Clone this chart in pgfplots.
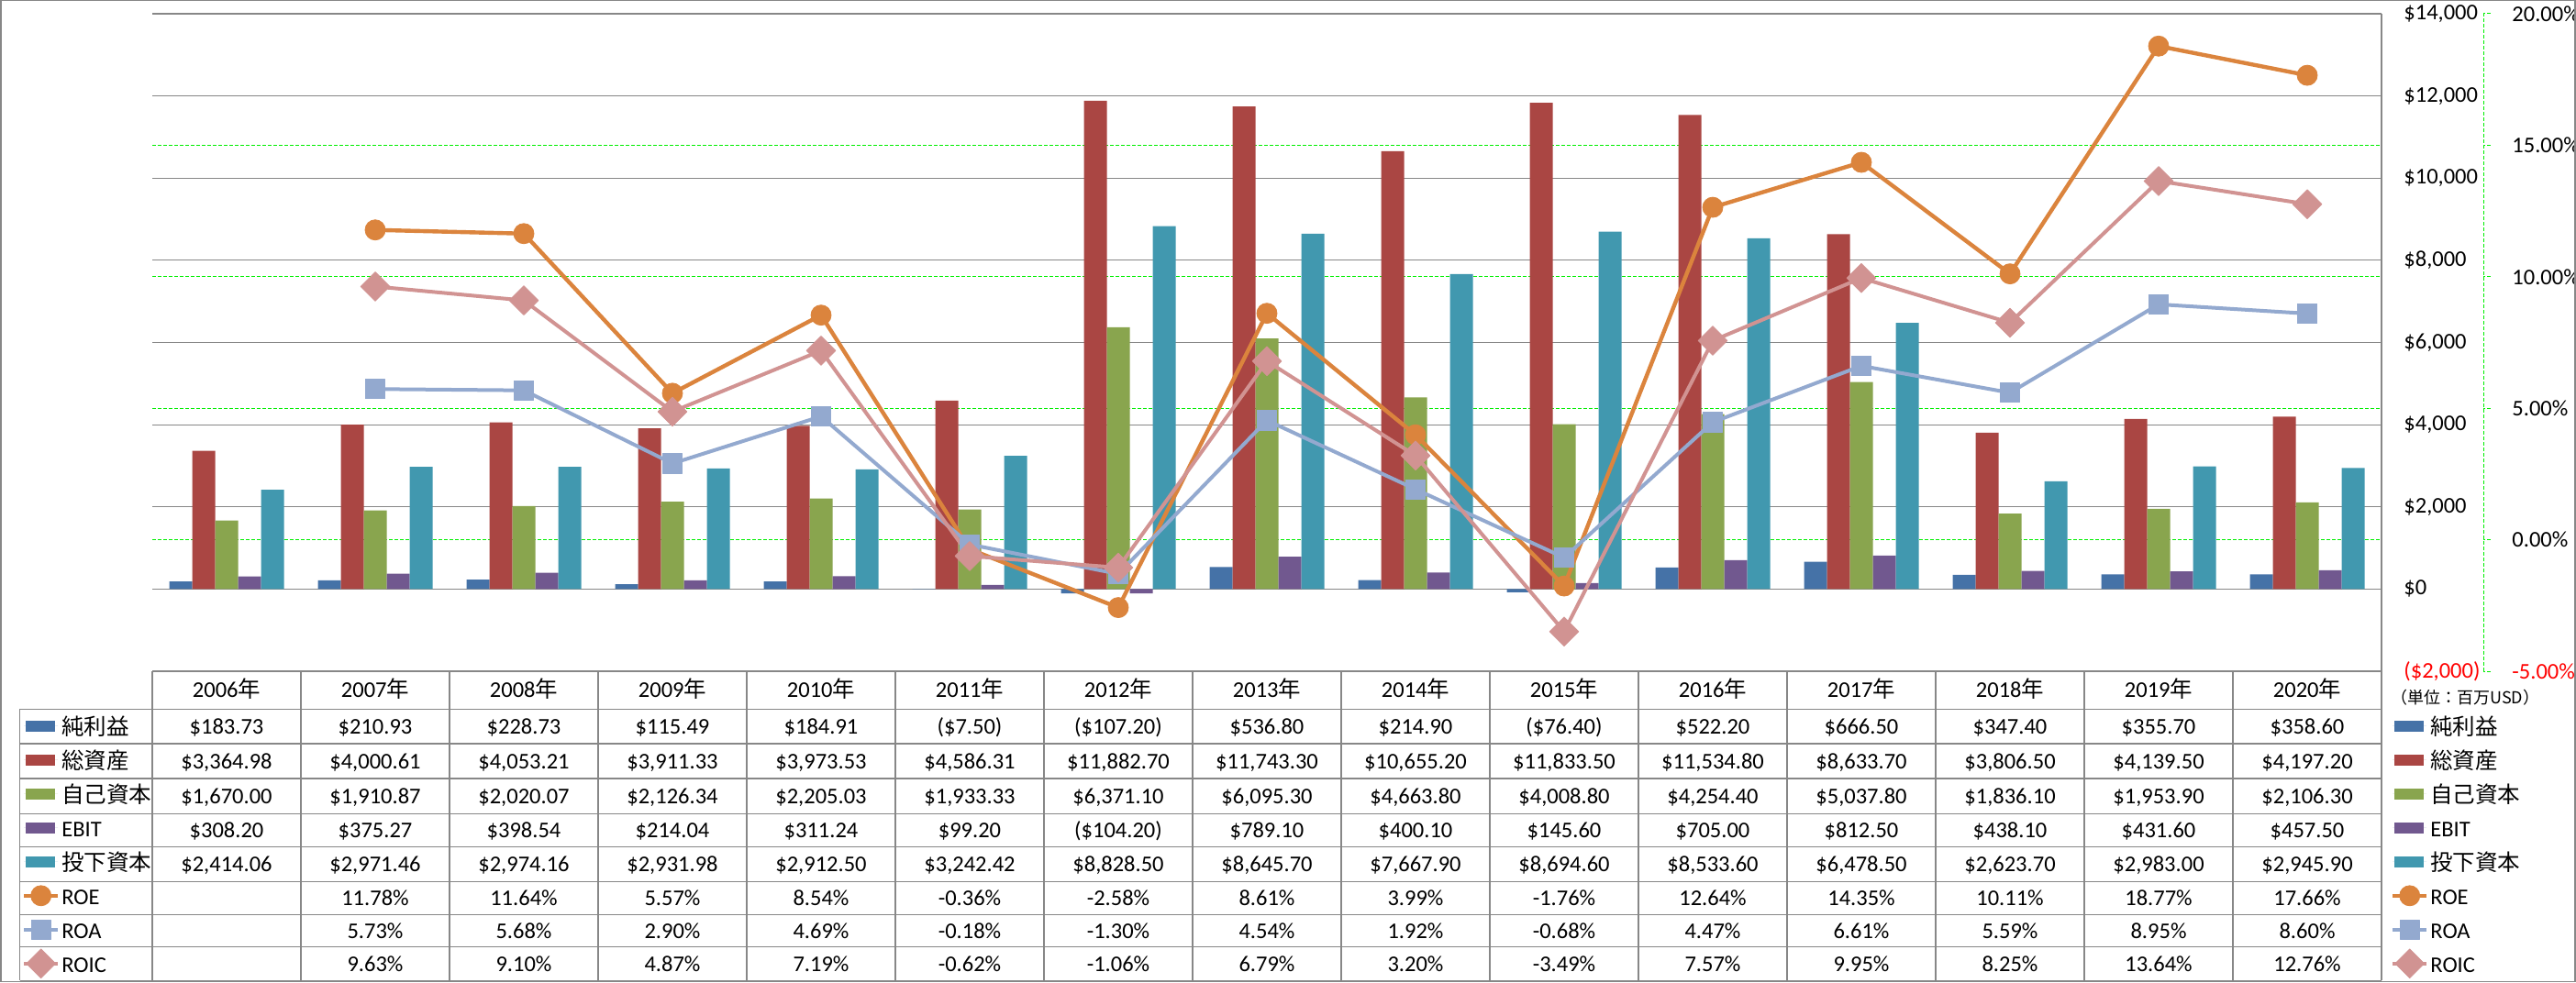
\documentclass[border=0pt]{standalone}
\usepackage{pgfplots}
\usepackage{pgfplotstable}
\pgfplotsset{compat=1.18}
\usepackage{fontspec}
\setmainfont{Carlito}
\newfontfamily\jp{Noto Sans CJK JP}
\definecolor{cA}{HTML}{4572A7}
\definecolor{cB}{HTML}{AA4643}
\definecolor{cC}{HTML}{89A54E}
\definecolor{cD}{HTML}{71588F}
\definecolor{cE}{HTML}{4198AF}
\definecolor{roe}{HTML}{DB843D}
\definecolor{roa}{HTML}{93A9CF}
\definecolor{roic}{HTML}{D19392}
\definecolor{lg}{HTML}{878787}
\definecolor{gg}{HTML}{00EE00}
\newcommand\fs{\fontsize{12.25}{14}\selectfont}

\pgfplotstableread{
x ni ta eq ebit ic
0 183.73 3364.98 1670.00 308.20 2414.06
1 210.93 4000.61 1910.87 375.27 2971.46
2 228.73 4053.21 2020.07 398.54 2974.16
3 115.49 3911.33 2126.34 214.04 2931.98
4 184.91 3973.53 2205.03 311.24 2912.50
5 -7.50 4586.31 1933.33 99.20 3242.42
6 -107.20 11882.70 6371.10 -104.20 8828.50
7 536.80 11743.30 6095.30 789.10 8645.70
8 214.90 10655.20 4663.80 400.10 7667.90
9 -76.40 11833.50 4008.80 145.60 8694.60
10 522.20 11534.80 4254.40 705.00 8533.60
11 666.50 8633.70 5037.80 812.50 6478.50
12 347.40 3806.50 1836.10 438.10 2623.70
13 355.70 4139.50 1953.90 431.60 2983.00
14 358.60 4197.20 2106.30 457.50 2945.90
}\bars
\pgfplotstableread{
x roe roa roic
1 11.78 5.73 9.63
2 11.64 5.68 9.10
3 5.57 2.90 4.87
4 8.54 4.69 7.19
5 -0.36 -0.18 -0.62
6 -2.58 -1.30 -1.06
7 8.61 4.54 6.79
8 3.99 1.92 3.20
9 -1.76 -0.68 -3.49
10 12.64 4.47 7.57
11 14.35 6.61 9.95
12 10.11 5.59 8.25
13 18.77 8.95 13.64
14 17.66 8.60 12.76
}\ratios

\pgfplotsset{
  barleg/.style={legend image code/.code={\path (0pt,0pt) -- (18.5pt,0pt); \fill (1pt,-3pt) rectangle (17pt,3pt);}},
  lineleg/.style={legend image code/.code={\draw[mark repeat=2,mark phase=2] plot coordinates {(0pt,0pt) (9.25pt,0pt) (18.5pt,0pt)};}},
  roeS/.style={color=roe, line width=2.2pt, line join=round, mark=*, mark size=5.5pt, mark options={solid, fill=roe, draw=roe, line width=0.4pt}, lineleg},
  roaS/.style={color=roa, line width=2pt, line join=round, mark=square*, mark size=5.3pt, mark options={solid, fill=roa, draw=roa, line width=0.4pt}, lineleg},
  roicS/.style={color=roic, line width=2pt, line join=round, mark=square*, mark size=5.6pt, mark options={solid, rotate=45, fill=roic, draw=roic, line width=0.4pt}, lineleg},
  legS/.style={legend style={at={#1}, anchor=north west, draw=none, fill=none, inner sep=0pt, outer sep=0pt, row sep=0pt, font=\fs, nodes={font=\fs, inner sep=0pt, text height=14pt, text depth=4.5pt}, /tikz/every odd column/.append style={column sep=1pt}}, legend cell align=left},
  baxis/.style={scale only axis, width=1215pt, height=358.5pt, at={(83pt,169.5pt)}, anchor=south west, xmin=-0.5, xmax=14.5, clip=false, axis x line=none, axis y line*=right},
}

\newcommand\tabrow[2]{\foreach \v [count=\i from 0] in {#2} {\node[font=\fs, anchor=base, inner sep=0pt] at (247+162*\i,#1-8) {\v};}}

\begin{document}
\begin{tikzpicture}
\useasboundingbox (0,0) rectangle (1404pt,535.5pt);
% ---------- bars ----------
\begin{axis}[baxis,
  ymin=-2000, ymax=14000,
  ytick={-2000,0,...,14000},
  yticklabels={{\textcolor{red}{(\$2,000)}},{\$0},{\$2,000},{\$4,000},{\$6,000},{\$8,000},{\$10,000},{\$12,000},{\$14,000}},
  ymajorgrids, major grid style={draw=lg, line width=0.6pt},
  y axis line style={draw=lg, line width=0.6pt},
  major tick length=0pt,
  yticklabel style={font=\fs, anchor=west, inner sep=0pt, xshift=12pt},
  extra y ticks={1200,4400,7600,10800},
  extra y tick labels={},
  extra y tick style={ymajorgrids=true, major grid style={draw=gg, dash pattern=on 2pt off 1pt, line width=0.5pt}},
  legS={(1.00412,-0.0576)},
]
\addplot[ybar, bar width=12.5pt, fill=cA, draw=none, bar shift=-25pt, barleg] table[x=x,y=ni]{\bars};
\addplot[ybar, bar width=12.5pt, fill=cB, draw=none, bar shift=-12.5pt, barleg] table[x=x,y=ta]{\bars};
\addplot[ybar, bar width=12.5pt, fill=cC, draw=none, bar shift=0pt, barleg] table[x=x,y=eq]{\bars};
\addplot[ybar, bar width=12.5pt, fill=cD, draw=none, bar shift=12.5pt, barleg] table[x=x,y=ebit]{\bars};
\addplot[ybar, bar width=12.5pt, fill=cE, draw=none, bar shift=25pt, barleg] table[x=x,y=ic]{\bars};
\addlegendimage{roeS}
\addlegendimage{roaS}
\addlegendimage{roicS}
\legend{{\fs\jp 純利益},{\fs\jp 総資産},{\fs\jp 自己資本},{\fs EBIT},{\fs\jp 投下資本},{\fs ROE},{\fs ROA},{\fs ROIC}}
\end{axis}
% ---------- ratios ----------
\begin{axis}[baxis,
  ymin=-5, ymax=20,
  ytick={-5,0,5,10,15,20},
  yticklabels={{\textcolor{red}{-5.00\%}},{0.00\%},{5.00\%},{10.00\%},{15.00\%},{20.00\%}},
  y axis line style={draw=gg, dash pattern=on 2pt off 1pt, line width=0.5pt, xshift=55.5pt},
  ytick style={draw=gg, dash pattern=on 2pt off 1pt, line width=0.5pt, xshift=55.5pt},
  tick align=outside, major tick length=4pt,
  yticklabel style={font=\fs, anchor=west, inner sep=0pt, xshift=67pt},
  legS={(-0.05844,-0.0576)},
]
\addlegendimage{fill=cA, draw=none, barleg}
\addlegendimage{fill=cB, draw=none, barleg}
\addlegendimage{fill=cC, draw=none, barleg}
\addlegendimage{fill=cD, draw=none, barleg}
\addlegendimage{fill=cE, draw=none, barleg}
\addplot[roeS] table[x=x,y=roe]{\ratios};
\addplot[roaS] table[x=x,y=roa]{\ratios};
\addplot[roicS] table[x=x,y=roic]{\ratios};
\legend{{\fs\jp 純利益},{\fs\jp 総資産},{\fs\jp 自己資本},{\fs EBIT},{\fs\jp 投下資本},{\fs ROE},{\fs ROA},{\fs ROIC}}
\end{axis}
% ---------- data table ----------
\begin{scope}[x=0.5pt,y=0.5pt]
\draw[lg, line width=0.6pt] (1,0.5) rectangle (2807,1070.5);
\begin{scope}[lg, line width=0.6pt]
\draw (166,338.7) -- (2596,338.7);
\foreach \yy in {297.7,260,222,183.7,147.7,109.3,73.7,38.3,1.7} {\draw (21.7,\yy) -- (2596,\yy);}
\draw (21.7,297.7) -- (21.7,1.7);
\foreach \k in {0,...,15} {\draw (166+162*\k,338.7) -- (166+162*\k,1.7);}
\end{scope}
\foreach \yr [count=\i from 0] in {2006,...,2020} {\node[font=\fs, anchor=base, inner sep=0pt] at (247+162*\i,318.2-8) {\yr{\jp 年}};}
\tabrow{278.9}{{\$183.73},{\$210.93},{\$228.73},{\$115.49},{\$184.91},{(\$7.50)},{(\$107.20)},{\$536.80},{\$214.90},{(\$76.40)},{\$522.20},{\$666.50},{\$347.40},{\$355.70},{\$358.60}}
\tabrow{241.0}{{\$3,364.98},{\$4,000.61},{\$4,053.21},{\$3,911.33},{\$3,973.53},{\$4,586.31},{\$11,882.70},{\$11,743.30},{\$10,655.20},{\$11,833.50},{\$11,534.80},{\$8,633.70},{\$3,806.50},{\$4,139.50},{\$4,197.20}}
\tabrow{202.9}{{\$1,670.00},{\$1,910.87},{\$2,020.07},{\$2,126.34},{\$2,205.03},{\$1,933.33},{\$6,371.10},{\$6,095.30},{\$4,663.80},{\$4,008.80},{\$4,254.40},{\$5,037.80},{\$1,836.10},{\$1,953.90},{\$2,106.30}}
\tabrow{165.7}{{\$308.20},{\$375.27},{\$398.54},{\$214.04},{\$311.24},{\$99.20},{(\$104.20)},{\$789.10},{\$400.10},{\$145.60},{\$705.00},{\$812.50},{\$438.10},{\$431.60},{\$457.50}}
\tabrow{128.5}{{\$2,414.06},{\$2,971.46},{\$2,974.16},{\$2,931.98},{\$2,912.50},{\$3,242.42},{\$8,828.50},{\$8,645.70},{\$7,667.90},{\$8,694.60},{\$8,533.60},{\$6,478.50},{\$2,623.70},{\$2,983.00},{\$2,945.90}}
\tabrow{91.5}{{},{11.78\%},{11.64\%},{5.57\%},{8.54\%},{-0.36\%},{-2.58\%},{8.61\%},{3.99\%},{-1.76\%},{12.64\%},{14.35\%},{10.11\%},{18.77\%},{17.66\%}}
\tabrow{56.0}{{},{5.73\%},{5.68\%},{2.90\%},{4.69\%},{-0.18\%},{-1.30\%},{4.54\%},{1.92\%},{-0.68\%},{4.47\%},{6.61\%},{5.59\%},{8.95\%},{8.60\%}}
\tabrow{20.0}{{},{9.63\%},{9.10\%},{4.87\%},{7.19\%},{-0.62\%},{-1.06\%},{6.79\%},{3.20\%},{-3.49\%},{7.57\%},{9.95\%},{8.25\%},{13.64\%},{12.76\%}}
\node[font=\jp\fontsize{9}{11}\selectfont, anchor=west, inner sep=0pt] at (2606,310) {（単位：百万USD）};
\end{scope}
\end{tikzpicture}
\end{document}
